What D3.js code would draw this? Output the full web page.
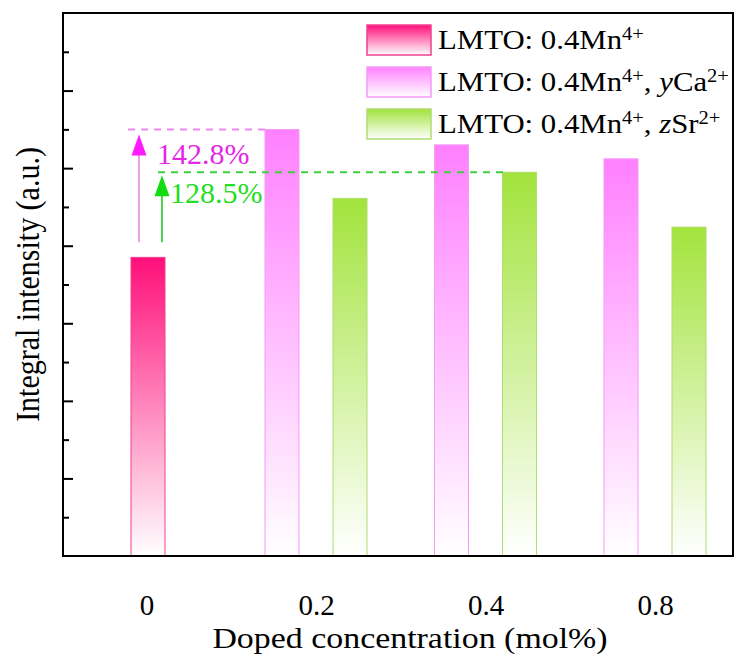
<!DOCTYPE html>
<html>
<head>
<meta charset="utf-8">
<script src="https://cdn.jsdelivr.net/npm/d3@7/dist/d3.min.js"></script>
<style>
  html, body { margin: 0; padding: 0; background: #fff; }
  svg { display: block; }
  svg text { font-family: "Liberation Serif", "Times New Roman", serif; }
</style>
</head>
<body>
<svg id="chart" width="740" height="656"></svg>
<script>
// Doped concentrations on the x axis
const categories = ["0", "0.2", "0.4", "0.8"];
// Integral intensity (a.u.) of the undoped LMTO: 0.4Mn4+ sample
const baseValue = 3.85;
// LMTO: 0.4Mn4+, yCa2+ at y = 0.2, 0.4, 0.8
const caCategories = ["0.2", "0.4", "0.8"];
const caValues = [5.498, 5.30, 5.12];
// LMTO: 0.4Mn4+, zSr2+ at z = 0.2, 0.4, 0.8
const srCategories = ["0.2", "0.4", "0.8"];
const srValues = [4.61, 4.947, 4.24];
// y axis ticks (no labels)
const yMajorTicks = [1, 2, 3, 4, 5, 6];
const yMinorTicks = [0.5, 1.5, 2.5, 3.5, 4.5, 5.5, 6.5];

const SERIF = "Liberation Serif";
const W = 740, H = 656;
const margin = { left: 63, top: 13, right: 7, bottom: 100 };
const pw = W - margin.left - margin.right;
const ph = H - margin.top - margin.bottom;

const colors = { mn: "#ff0f7a", ca: "#ff80ff", sr: "#a2e33c" };
const strokes = { mn: "#f0408f", ca: "#f59af5", sr: "#b0dc70" };

const svg = d3.select("#chart");
const defs = svg.append("defs");
Object.entries(colors).forEach(([k, c]) => {
  const g = defs.append("linearGradient")
    .attr("id", "grad-" + k).attr("x1", 0).attr("y1", 0).attr("x2", 0).attr("y2", 1);
  g.append("stop").attr("offset", "0%").attr("stop-color", c);
  g.append("stop").attr("offset", "100%").attr("stop-color", "#ffffff");
});

const g = svg.append("g").attr("transform", `translate(${margin.left},${margin.top})`);

const x = d3.scalePoint().domain(categories).range([83.5, 592]);
const sub = d3.scaleBand().domain(["ca", "sr"]).range([-51, 51]).paddingInner(0.5);
const bw = sub.bandwidth();
const y = d3.scaleLinear().domain([0, 7]).range([ph, 0]);

// bars
const bars = [
  { key: "mn", cat: "0", v: baseValue, x0: x("0") - bw / 2 + 1.5 },
  ...caCategories.map((c, i) => ({ key: "ca", cat: c, v: caValues[i], x0: x(c) + sub("ca") })),
  ...srCategories.map((c, i) => ({ key: "sr", cat: c, v: srValues[i], x0: x(c) + sub("sr") }))
];
g.selectAll("rect.bar").data(bars).join("rect")
  .attr("class", "bar")
  .attr("x", d => d.x0)
  .attr("y", d => y(d.v))
  .attr("width", bw)
  .attr("height", d => ph - y(d.v))
  .attr("fill", d => `url(#grad-${d.key})`)
  .attr("stroke", d => strokes[d.key])
  .attr("stroke-width", 1);

// enhancement guides
const mnBar = bars[0];
const caPeak = bars.find(d => d.key === "ca" && d.cat === "0.2");
const srPeak = bars.find(d => d.key === "sr" && d.cat === "0.4");
const fmt = d3.format(".1f");

g.append("line")
  .attr("x1", mnBar.x0 - 3).attr("x2", caPeak.x0)
  .attr("y1", y(caPeak.v)).attr("y2", y(caPeak.v))
  .attr("stroke", "#ee88ee").attr("stroke-width", 2).attr("stroke-dasharray", "7,6");
g.append("line")
  .attr("x1", mnBar.x0 + 27).attr("x2", srPeak.x0 + 5)
  .attr("y1", y(srPeak.v)).attr("y2", y(srPeak.v))
  .attr("stroke", "#3fcf3f").attr("stroke-width", 2).attr("stroke-dasharray", "7,6");

function arrow(ax, yFrom, yTo, shaftColor, headColor) {
  g.append("line").attr("x1", ax).attr("x2", ax).attr("y1", yFrom).attr("y2", yTo + 18)
    .attr("stroke", shaftColor).attr("stroke-width", 1.6);
  g.append("path")
    .attr("d", `M${ax},${yTo} L${ax - 7.5},${yTo + 21} L${ax + 7.5},${yTo + 21} Z`)
    .attr("fill", headColor);
}
const arrowBase = y(mnBar.v) - 15;
arrow(mnBar.x0 + 8, arrowBase, y(caPeak.v) + 5, "#e58ae5", "#ff1aff");
arrow(mnBar.x0 + 31, arrowBase, y(srPeak.v) + 3, "#22cc22", "#11dd11");

g.append("text")
  .attr("x", mnBar.x0 + 26).attr("y", y(caPeak.v) + 34)
  .attr("font-family", SERIF).attr("font-size", 30).attr("fill", "#e526e5")
  .text(fmt(caPeak.v / mnBar.v * 100) + "%");
g.append("text")
  .attr("x", mnBar.x0 + 39).attr("y", y(srPeak.v) + 31)
  .attr("font-family", SERIF).attr("font-size", 30).attr("fill", "#22dd22")
  .text(fmt(srPeak.v / mnBar.v * 100) + "%");

// axes
g.append("g").call(d3.axisLeft(y).tickValues(yMajorTicks).tickSize(-10).tickFormat(""))
  .call(a => a.select(".domain").remove())
  .selectAll("line").attr("stroke", "#000").attr("stroke-width", 2);
g.append("g").call(d3.axisLeft(y).tickValues(yMinorTicks).tickSize(-6).tickFormat(""))
  .call(a => a.select(".domain").remove())
  .selectAll("line").attr("stroke", "#000").attr("stroke-width", 2);

const xa = g.append("g").attr("transform", `translate(0,${ph})`)
  .attr("font-family", SERIF)
  .call(d3.axisBottom(x).tickSize(0).tickPadding(38));
xa.attr("font-family", SERIF);
xa.select(".domain").remove();
xa.selectAll("text").attr("font-size", 29).attr("font-family", SERIF).attr("fill", "#000");

// frame
g.append("rect").attr("x", 0).attr("y", 0).attr("width", pw).attr("height", ph)
  .attr("fill", "none").attr("stroke", "#000").attr("stroke-width", 2);

// axis titles
svg.append("text")
  .attr("transform", `translate(39,${margin.top + ph / 2}) scale(1.1,1) rotate(-90)`)
  .attr("text-anchor", "middle").attr("font-family", SERIF).attr("font-size", 30)
  .text("Integral intensity (a.u.)");
svg.append("text")
  .attr("transform", `translate(${margin.left + pw / 2 + 12},648) scale(1.13,1)`)
  .attr("text-anchor", "middle").attr("font-family", SERIF).attr("font-size", 30)
  .text("Doped concentration (mol%)");

// legend
const legend = [
  { key: "mn", parts: [["LMTO: 0.4Mn", ""], ["4+", "sup"]] },
  { key: "ca", parts: [["LMTO: 0.4Mn", ""], ["4+", "sup"], [", ", ""], ["y", "it"], ["Ca", ""], ["2+", "sup"]] },
  { key: "sr", parts: [["LMTO: 0.4Mn", ""], ["4+", "sup"], [", ", ""], ["z", "it"], ["Sr", ""], ["2+", "sup"]] }
];
const lg = svg.append("g").attr("transform", "translate(367,25)");
legend.forEach((L, i) => {
  const row = lg.append("g").attr("transform", `translate(0,${i * 42})`);
  row.append("rect").attr("x", 0).attr("y", 0).attr("width", 64).attr("height", 30)
    .attr("fill", `url(#grad-${L.key})`).attr("stroke", strokes[L.key]).attr("stroke-width", 1.5);
  const t = row.append("text")
    .attr("transform", "translate(71,24) scale(1.14,1)")
    .attr("font-family", SERIF).attr("font-size", 27);
  L.parts.forEach(([s, style]) => {
    const ts = t.append("tspan").text(s);
    if (style === "sup") ts.attr("font-size", 18).attr("baseline-shift", "9");
    if (style === "it") ts.attr("font-style", "italic");
  });
});
</script>
</body>
</html>
